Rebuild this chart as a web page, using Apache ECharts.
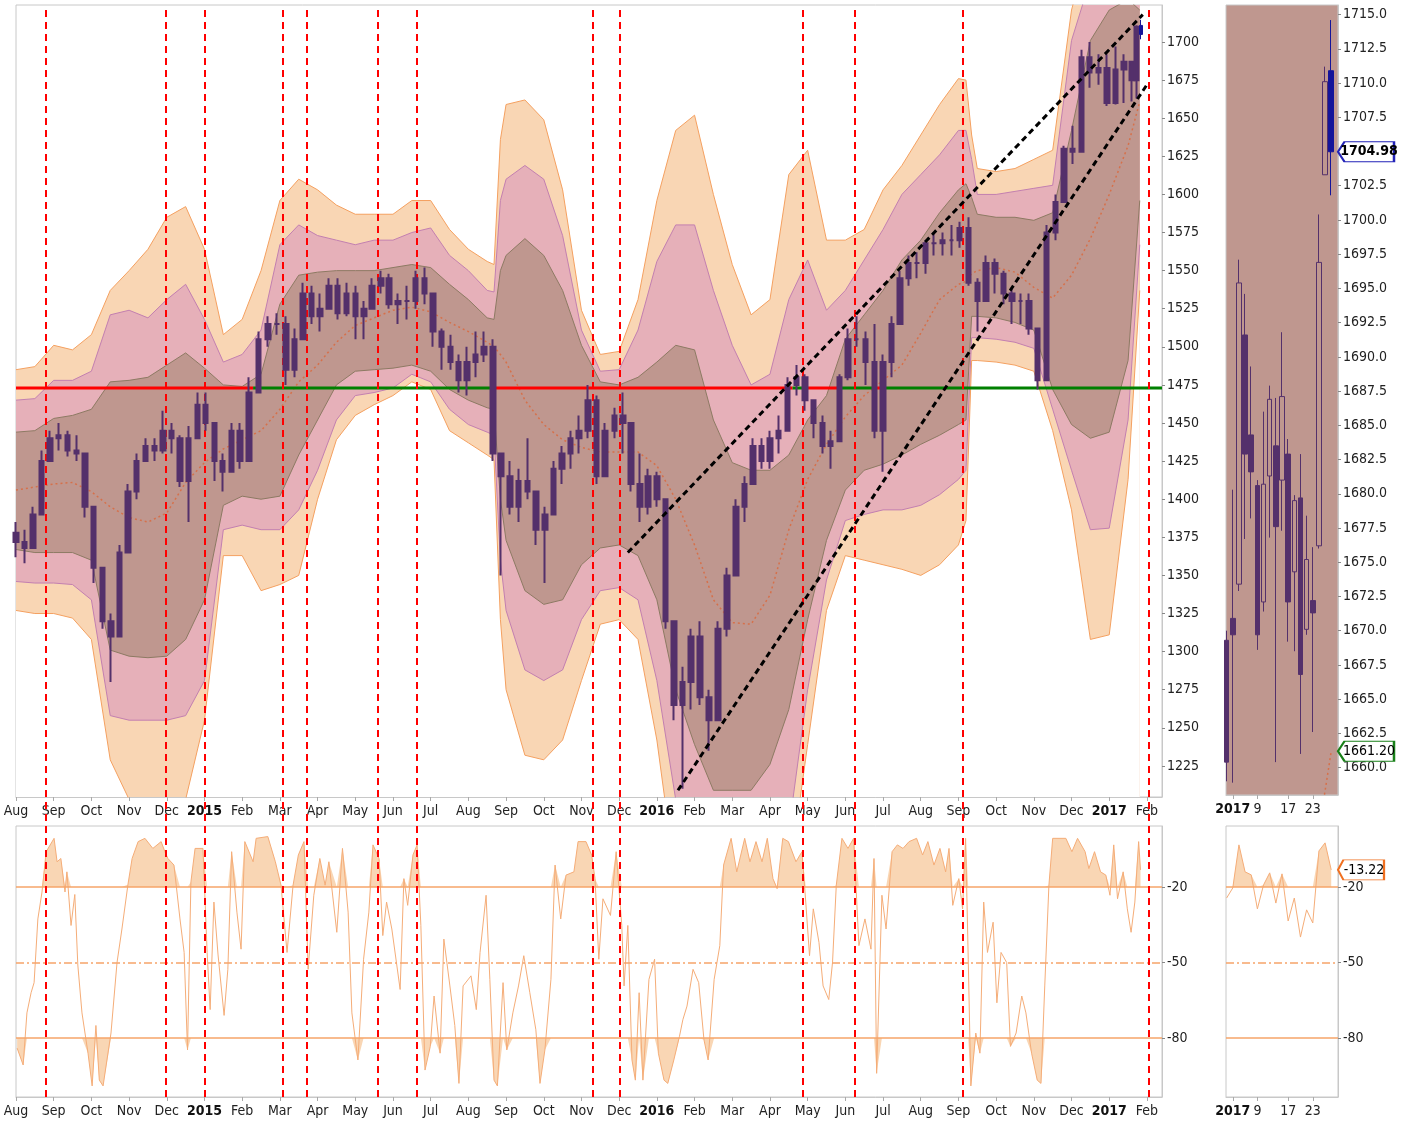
<!DOCTYPE html>
<html>
<head>
<meta charset="utf-8">
<script src="https://cdn.jsdelivr.net/npm/echarts@6/dist/echarts.min.js"></script>
<style>
html,body{margin:0;padding:0;background:#fff;}
#chart{width:1404px;height:1127px;}
</style>
</head>
<body>
<div id="chart"></div>
<script>
// x positions are months since 1 Aug 2014
const monthLabels = ['Aug','Sep','Oct','Nov','Dec','2015','Feb','Mar','Apr','May','Jun','Jul','Aug','Sep','Oct','Nov','Dec','2016','Feb','Mar','Apr','May','Jun','Jul','Aug','Sep','Oct','Nov','Dec','2017','Feb']
const priceTicks = [1225,1250,1275,1300,1325,1350,1375,1400,1425,1450,1475,1500,1525,1550,1575,1600,1625,1650,1675,1700]
const zoomTicks = [1660,1662.5,1665,1667.5,1670,1672.5,1675,1677.5,1680,1682.5,1685,1687.5,1690,1692.5,1695,1697.5,1700,1702.5,1705,1707.5,1710,1712.5,1715]
const wrTicks = [-20,-50,-80]

// weekly bars
const weekPos = [0.00,0.23,0.45,0.68,0.90,1.13,1.37,1.60,1.83,2.06,
    2.29,2.52,2.74,2.97,3.20,3.43,3.67,3.90,4.13,4.35,
    4.58,4.81,5.03,5.26,5.48,5.71,5.94,6.18,6.43,6.68,
    6.93,7.16,7.39,7.61,7.84,8.07,8.30,8.53,8.77,9.00,
    9.23,9.45,9.68,9.90,10.13,10.37,10.60,10.83,11.06,11.29,
    11.52,11.74,11.97,12.19,12.42,12.65,12.87,13.10,13.33,13.57,
    13.80,14.03,14.26,14.48,14.71,14.94,15.17,15.40,15.63,15.87,
    16.10,16.32,16.55,16.77,17.00,17.23,17.45,17.68,17.90,18.14,
    18.38,18.62,18.86,19.10,19.32,19.55,19.77,20.00,20.23,20.47,
    20.70,20.93,21.16,21.39,21.61,21.84,22.07,22.30,22.53,22.77,
    23.00,23.23,23.45,23.68,23.90,24.13,24.35,24.58,24.81,25.03,
    25.27,25.50,25.73,25.97,26.19,26.42,26.65,26.87,27.10,27.33,
    27.57,27.80,28.03,28.26,28.48,28.71,28.94,29.16,29.39,29.61,
    29.72]
const weekClose = [1372,1368,1390,1425,1440,1442,1432,1430,1395,1355,
    1320,1310,1365,1405,1425,1435,1432,1445,1440,1412,
    1440,1462,1450,1425,1418,1445,1425,1470,1505,1515,
    1515,1485,1505,1535,1520,1525,1540,1522,1535,1520,
    1525,1540,1545,1528,1530,1530,1545,1535,1510,1500,
    1490,1478,1490,1495,1500,1430,1415,1395,1412,1405,
    1380,1390,1420,1430,1440,1445,1465,1415,1445,1455,
    1450,1410,1395,1415,1400,1320,1265,1280,1310,1270,
    1255,1315,1350,1395,1410,1435,1425,1440,1445,1475,
    1480,1465,1450,1435,1438,1480,1505,1505,1490,1445,
    1490,1515,1545,1555,1555,1568,1568,1570,1570,1578,
    1542,1530,1555,1548,1535,1530,1530,1512,1478,1575,
    1595,1630,1628,1690,1680,1683,1660,1682,1687,1675,
    1710]
const weekHigh = [1385,1380,1395,1432,1445,1450,1445,1442,1425,1395,
    1355,1325,1370,1410,1430,1440,1440,1458,1450,1442,
    1448,1470,1470,1450,1430,1450,1450,1480,1510,1520,
    1522,1520,1512,1542,1540,1535,1545,1545,1542,1540,
    1530,1545,1550,1548,1535,1540,1550,1552,1535,1512,
    1508,1495,1500,1510,1510,1505,1430,1425,1420,1440,
    1405,1395,1425,1435,1445,1455,1475,1468,1450,1460,
    1470,1450,1430,1420,1418,1395,1320,1290,1315,1320,
    1275,1320,1355,1400,1415,1440,1440,1445,1455,1480,
    1488,1482,1465,1455,1445,1482,1512,1520,1510,1515,
    1495,1520,1550,1560,1562,1570,1575,1575,1580,1582,
    1585,1545,1560,1558,1550,1538,1535,1535,1510,1580,
    1600,1632,1645,1695,1700,1692,1692,1697,1692,1684,
    1711]
const weekLow = [1362,1358,1370,1395,1425,1432,1428,1425,1388,1345,
    1315,1280,1320,1365,1400,1425,1425,1430,1430,1408,
    1385,1440,1445,1412,1405,1418,1420,1425,1470,1500,
    1508,1475,1480,1505,1515,1510,1525,1518,1520,1505,
    1505,1525,1535,1525,1515,1518,1525,1528,1500,1485,
    1485,1470,1468,1480,1490,1425,1350,1390,1385,1400,
    1370,1345,1395,1410,1420,1430,1440,1410,1415,1440,
    1430,1405,1385,1390,1395,1315,1255,1210,1262,1265,
    1235,1270,1310,1350,1385,1410,1420,1420,1430,1445,
    1468,1458,1440,1430,1420,1440,1478,1500,1475,1440,
    1418,1480,1515,1540,1545,1548,1560,1560,1560,1565,
    1540,1510,1530,1535,1528,1515,1515,1508,1472,1480,
    1570,1600,1620,1635,1670,1672,1658,1659,1660,1661,
    1663]
const lastDayPos = 29.84

// channel edges, read at half-month steps
const bandPos = [0,0.5,1,1.5,2,2.5,3,3.5,4,4.5,5,5.5,6,6.5,7,7.5,8,8.5,9,9.5,10,10.5,11,11.5,12,12.5,12.68,12.85,13,13.5,14,14.5,15,15.5,16,16.5,17,17.5,18,18.5,19,19.5,20,20.5,21,21.5,22,22.5,23,23.5,24,24.5,25,25.2,25.35,25.5,26,26.5,27,27.5,28,28.5,29,29.5,29.81]
const orangeTop = [1485,1487,1501,1498,1508,1537,1550,1564,1585,1592,1564,1508,1518,1550,1596,1610,1603,1593,1587,1587,1587,1596,1596,1577,1564,1556,1554,1636,1659,1662,1649,1603,1524,1495,1497,1531,1596,1642,1652,1600,1554,1521,1531,1613,1629,1570,1570,1577,1603,1619,1639,1659,1676,1675,1639,1617,1615,1617,1623,1629,1721,1767,1767,1754,1747]
const pinkTop = [1465,1466,1478,1478,1484,1521,1524,1519,1531,1541,1518,1490,1495,1511,1567,1580,1573,1570,1567,1570,1570,1575,1578,1560,1550,1537,1536,1596,1610,1619,1610,1573,1511,1484,1485,1511,1556,1580,1580,1537,1501,1475,1482,1531,1557,1524,1537,1557,1577,1600,1613,1626,1642,1642,1623,1600,1600,1602,1604,1606,1701,1741,1741,1734,1728]
const brownTop = [1444,1445,1453,1455,1459,1477,1478,1480,1488,1496,1486,1475,1474,1482,1528,1547,1549,1550,1550,1550,1552,1554,1552,1541,1531,1519,1518,1550,1560,1571,1560,1537,1501,1477,1475,1480,1490,1501,1498,1452,1424,1419,1419,1429,1452,1468,1505,1521,1537,1557,1570,1588,1603,1607,1598,1587,1585,1585,1583,1588,1642,1701,1721,1728,1721]
const brownBot = [1367,1365,1365,1365,1360,1301,1297,1296,1297,1308,1334,1396,1402,1400,1402,1429,1452,1475,1484,1485,1486,1488,1484,1472,1465,1460,1459,1400,1373,1340,1331,1334,1357,1368,1370,1363,1334,1275,1239,1209,1209,1209,1226,1262,1321,1373,1406,1419,1423,1429,1436,1442,1449,1452,1520,1520,1519,1516,1511,1472,1449,1440,1444,1491,1596]
const pinkBot = [1346,1345,1345,1344,1334,1258,1255,1255,1255,1258,1281,1380,1383,1380,1380,1393,1419,1452,1468,1470,1473,1482,1477,1459,1449,1444,1442,1360,1327,1288,1281,1288,1321,1340,1342,1334,1281,1203,1170,1170,1170,1170,1170,1183,1275,1347,1386,1390,1393,1393,1396,1403,1413,1419,1506,1506,1505,1503,1499,1459,1419,1380,1381,1452,1567]
const orangeBot = [1327,1325,1325,1322,1308,1229,1203,1203,1203,1203,1255,1363,1363,1340,1344,1350,1400,1439,1455,1462,1468,1477,1472,1445,1437,1429,1426,1321,1275,1232,1229,1242,1281,1318,1321,1308,1242,1150,1150,1150,1150,1150,1150,1150,1239,1327,1363,1360,1357,1354,1350,1357,1370,1386,1491,1491,1490,1488,1484,1445,1393,1308,1311,1413,1537]
const maLine = [1406,1408,1410,1411,1405,1395,1388,1385,1391,1411,1424,1433,1439,1445,1459,1477,1488,1503,1514,1519,1524,1526,1523,1516,1510,1503,1500,1495,1490,1465,1449,1439,1434,1431,1431,1431,1422,1400,1370,1334,1319,1318,1337,1380,1413,1436,1454,1468,1478,1488,1509,1531,1541,1543,1548,1550,1552,1549,1539,1532,1547,1571,1600,1632,1661]

const level = 1473
const levelBreaks = [0, 6.29, 12.63, 20.6, 21.0, 21.78, 22.8, 22.97, 30.4]
const levelAbove = [false, true, false, true, false, true, false, true]

const trendUpper = [[16.23, 1365], [29.89, 1718]]
const trendLower = [[17.56, 1209], [30.0, 1672]]

const markerPos = [0.80, 3.96, 5.01, 7.07, 7.70, 9.59, 10.64, 15.30, 16.01, 20.87, 22.24, 25.11, 30.06]

// Williams %R
const wrPos = [0.03,0.19,0.29,0.40,0.48,0.58,0.69,0.80,1.01,1.09,1.19,1.30,1.35,1.46,1.56,1.64,1.75,1.91,2.02,2.12,
    2.21,2.31,2.52,2.68,2.81,2.97,3.08,3.24,3.42,3.63,3.85,3.95,4.03,4.19,4.35,4.46,4.55,4.64,4.75,4.96,
    5.07,5.15,5.25,5.36,5.52,5.62,5.72,5.86,5.97,6.07,6.29,6.37,6.68,6.88,7.03,7.19,7.35,7.49,7.64,7.75,
    7.90,8.06,8.20,8.30,8.51,8.66,8.81,8.91,9.07,9.22,9.36,9.47,9.63,9.73,9.83,9.97,10.19,10.29,10.39,10.53,
    10.64,10.74,10.85,10.99,11.09,11.25,11.35,11.51,11.64,11.75,11.86,12.07,12.21,12.31,12.47,12.57,12.68,12.77,12.92,13.02,
    13.18,13.33,13.47,13.63,13.79,13.90,14.03,14.19,14.30,14.45,14.59,14.80,14.91,15.12,15.27,15.36,15.46,15.57,15.77,15.92,
    16.07,16.13,16.23,16.34,16.43,16.53,16.63,16.79,16.94,17.04,17.19,17.29,17.45,17.60,17.69,17.80,17.96,18.11,18.25,18.36,
    18.52,18.67,18.77,18.97,19.12,19.33,19.47,19.63,19.79,19.93,20.08,20.19,20.34,20.49,20.69,20.85,20.95,21.05,21.15,21.30,
    21.41,21.56,21.66,21.76,21.91,22.07,22.22,22.36,22.52,22.68,22.76,22.83,22.97,23.08,23.24,23.38,23.53,23.69,23.89,24.05,
    24.19,24.35,24.51,24.66,24.75,24.85,25.01,25.11,25.19,25.26,25.33,25.46,25.57,25.67,25.77,25.92,26.02,26.13,26.28,26.38,
    26.53,26.68,26.79,26.94,27.09,27.19,27.29,27.40,27.50,27.85,28.01,28.16,28.36,28.46,28.61,28.77,28.91,29.02,29.12,29.22,
    29.37,29.48,29.58,29.68,29.78,29.83]
const wrValue = [-84,-90.7,-70,-62,-58,-32.7,-22,-6,-0.7,-10,-8.7,-22,-14,-35.3,-23,-51,-70,-86,-99,-75,
    -96.7,-99,-78,-50,-36.7,-19,-8.7,-2,-0.7,-4.7,-2,-6,-8.7,-11.3,-32.7,-46,-84.7,-18,-4.7,-4.7,
    -46,-68.7,-26,-47,-71,-52.7,-6,-30,-44.7,-2,-10,-0.7,0,-10,-19.3,-46,-19.3,-7.3,-2,-52.7,
    -23.3,-8.7,-19.3,-10,-38,-4.7,-30,-70,-88.7,-48.7,-30,-3.3,-8.7,-39.3,-26,-36.7,-60.7,-16.7,-27.3,-7.3,
    -3.3,-35.3,-92.7,-83.3,-63.3,-86,-40.7,-59.3,-75,-98,-59.3,-55.3,-68.7,-46,-23.3,-56.7,-96.7,-99,-58,-84.7,
    -70,-59.3,-47.3,-62,-76.7,-98,-84.7,-56.7,-11.3,-32.7,-15.3,-14,-2,-2,-7.3,-16.7,-48.7,-24.7,-31.3,-6,
    -35.3,-59.3,-35.3,-88.7,-96.7,-62,-96.7,-56.7,-48.7,-86,-96.7,-98,-88.7,-79.3,-72.7,-67.3,-52.7,-58,-80.7,-88.7,
    -56.7,-43.3,-11.3,-0.7,-14,-0.7,-10,-2,-10,-0.7,-16.7,-20.7,-0.7,-2,-10,-6,-26,-47.3,-28.7,-42,
    -59.3,-64.7,-50,-19.3,-0.7,-4.7,-0.7,-43.3,-32.7,-44.7,-8.7,-94,-23.3,-36.7,-6,-3.3,-4.7,-2,-0.7,-7.3,
    -2,-11.3,-4.7,-14,-4.7,-27.3,-16.7,-28.7,-0.7,-48.7,-99,-78,-86,-26,-46,-34,-66,-46,-50,-83.3,
    -78,-63.3,-70,-86,-96.7,-98,-59.3,-19.3,-0.7,-0.7,-6,-0.7,-6,-12.7,-6,-14,-15.3,-23.3,-3.3,-24.7,
    -14,-28.7,-38,-26,-2,-13.22]

// January 2017 daily detail, index 0 = 30 Dec 2016
const janTickPos = [1, 5, 10, 14]
const janTickText = ['2017', '9', '17', '23']
const janOpen = [1669.3,1670.9,1673.4,1691.6,1684.3,1680.6,1672.1,1681.3,1683.5,1681.0,1682.9,1674.3,1679.7,1670.1,1672.2,1676.2,1703.3,1710.9]
const janHigh = [1670.0,1680.3,1697.1,1694.6,1689.3,1681.0,1686.0,1687.9,1687.0,1691.8,1684.0,1679.9,1682.9,1678.4,1676.1,1700.4,1711.2,1714.6]
const janLow = [1659.0,1658.9,1672.9,1676.7,1678.2,1668.6,1671.4,1676.8,1660.4,1677.3,1669.2,1668.5,1661.0,1669.7,1662.6,1676.0,1703.3,1701.8]
const janClose = [1660.4,1669.7,1695.4,1682.9,1681.6,1669.7,1680.7,1686.9,1677.6,1687.1,1672.1,1679.5,1666.8,1675.2,1671.3,1696.9,1710.1,1704.98]
const janMa = [[15, 1655.5], [16, 1658.3], [17, 1661.2]]
const janWr = [-24.4,-20.4,-3.3,-14.0,-15.2,-28.7,-19.2,-14.4,-26.4,-14.8,-33.5,-24.4,-39.9,-29.1,-34.3,-5.7,-2.5,-13.22]

const FONT = "'DejaVu Sans Condensed', 'DejaVu Sans', sans-serif"
const PURPLE = '#54306b'
const BLUE = '#14149a'
const ORANGE_FILL = '#f9d6b4'
const PINK_FILL = '#e6b0b9'
const BROWN_FILL = '#bf978f'
const ORANGE_LINE = '#f4a060'
const PINK_LINE = '#c27fb0'
const BROWN_LINE = '#8d7a63'

const edges = [
    { data: orangeTop, fill: ORANGE_FILL, line: ORANGE_LINE },
    { data: pinkTop, fill: PINK_FILL, line: PINK_LINE },
    { data: brownTop, fill: BROWN_FILL, line: BROWN_LINE },
    { data: brownBot, fill: PINK_FILL, line: BROWN_LINE },
    { data: pinkBot, fill: ORANGE_FILL, line: PINK_LINE },
    { data: orangeBot, fill: '#ffffff', line: ORANGE_LINE }
]
const withPos = arr => bandPos.map((m, i) => [m, arr[i]])

const series = []
// each fill paints from its edge down to the axis floor, the next one covers the rest
edges.forEach(e => {
    series.push({
        type: 'line', xAxisIndex: 0, yAxisIndex: 0, data: withPos(e.data),
        symbol: 'none', silent: true, z: 1,
        lineStyle: { width: 0 },
        areaStyle: { color: e.fill, opacity: 1, origin: 'start' }
    })
})
edges.forEach(e => {
    series.push({
        type: 'line', xAxisIndex: 0, yAxisIndex: 0, data: withPos(e.data),
        symbol: 'none', silent: true, z: 2,
        lineStyle: { width: 1, color: e.line }
    })
})

series.push({
    type: 'line', xAxisIndex: 0, yAxisIndex: 0, data: withPos(maLine),
    symbol: 'none', silent: true, z: 3,
    lineStyle: { width: 1.5, color: '#d6704a', type: [2, 3] }
})

for (let i = 0; i < levelAbove.length; i++) {
    series.push({
        type: 'line', xAxisIndex: 0, yAxisIndex: 0,
        data: [[levelBreaks[i], level], [levelBreaks[i + 1], level]],
        symbol: 'none', silent: true, z: 4,
        lineStyle: { width: 3, color: levelAbove[i] ? '#008000' : '#ff0000' }
    })
}

const weekData = weekPos.map((m, i) => {
    const open = i === 0 ? 1378 : weekClose[i - 1]
    return [m, open, weekClose[i], weekLow[i], weekHigh[i]]
})
series.push({
    type: 'candlestick', xAxisIndex: 0, yAxisIndex: 0, data: weekData,
    encode: { x: 0, y: [1, 2, 3, 4] }, barWidth: 5, z: 5, silent: true,
    itemStyle: { color: PURPLE, color0: PURPLE, borderColor: PURPLE, borderColor0: PURPLE, borderWidth: 2 }
})
const last = janOpen.length - 1
series.push({
    type: 'candlestick', xAxisIndex: 0, yAxisIndex: 0,
    data: [[lastDayPos, janOpen[last], janClose[last], janLow[last], janHigh[last]]],
    encode: { x: 0, y: [1, 2, 3, 4] }, barWidth: 3, z: 5, silent: true,
    itemStyle: { color: BLUE, color0: BLUE, borderColor: BLUE, borderColor0: BLUE, borderWidth: 1 }
})

;[trendUpper, trendLower].forEach(t => {
    series.push({
        type: 'line', xAxisIndex: 0, yAxisIndex: 0, data: t,
        symbol: 'none', silent: true, z: 6,
        lineStyle: { width: 3, color: '#000', type: [6, 4] }
    })
})

// oscillator
const wrLine = wrPos.map((m, i) => [m, wrValue[i]])
const levelMarks = {
    silent: true, symbol: ['none', 'none'], label: { show: false },
    data: wrTicks.map(v => ({ yAxis: v, lineStyle: { color: '#f6a469', width: 1.5, type: v === -50 ? [8, 3, 2, 3] : 'solid' } }))
}
series.push({
    type: 'line', xAxisIndex: 1, yAxisIndex: 1,
    data: wrLine.map(([m, v]) => [m, Math.max(v, -20)]),
    symbol: 'none', silent: true, lineStyle: { width: 0 },
    areaStyle: { color: ORANGE_FILL, opacity: 1, origin: -20 }
})
series.push({
    type: 'line', xAxisIndex: 1, yAxisIndex: 1,
    data: wrLine.map(([m, v]) => [m, Math.min(v, -80)]),
    symbol: 'none', silent: true, lineStyle: { width: 0 },
    areaStyle: { color: ORANGE_FILL, opacity: 1, origin: -80 }
})
series.push({
    type: 'line', xAxisIndex: 1, yAxisIndex: 1, data: wrLine,
    symbol: 'none', silent: true, z: 3,
    lineStyle: { width: 1, color: '#f5ad78' },
    markLine: levelMarks
})

// January panels
const janData = janOpen.map((o, i) => {
    const item = { value: [i, o, janClose[i], janLow[i], janHigh[i]] }
    if (i === last) {
        item.itemStyle = { color: BLUE, color0: BLUE, borderColor: BLUE, borderColor0: BLUE }
    }
    return item
})
const tag = (coord, text, color, bold, width) => ({
    coord: coord,
    symbol: 'path://M0,10 L7,0 L60,0 L60,20 L7,20 Z',
    symbolSize: [width, 20],
    symbolOffset: [width / 2, 0],
    itemStyle: { color: '#fff', borderColor: color, borderWidth: 1.5 },
    label: {
        show: true, position: 'inside', offset: [3, 0], formatter: text,
        color: '#000', fontFamily: FONT, fontSize: 14, fontWeight: bold ? 'bold' : 'normal'
    }
})
series.push({
    type: 'candlestick', xAxisIndex: 2, yAxisIndex: 2, data: janData,
    encode: { x: 0, y: [1, 2, 3, 4] }, barWidth: 5, silent: true, z: 5,
    itemStyle: { color: 'transparent', color0: PURPLE, borderColor: PURPLE, borderColor0: PURPLE, borderWidth: 1 },
    markPoint: {
        silent: true,
        data: [
            tag([18.1, janClose[last]], janClose[last].toFixed(2), '#2323b8', true, 56),
            tag([18.1, janMa[janMa.length - 1][1]], janMa[janMa.length - 1][1].toFixed(2), '#188018', false, 56)
        ]
    }
})
series.push({
    type: 'line', xAxisIndex: 2, yAxisIndex: 2, data: janMa,
    symbol: 'none', silent: true, z: 3,
    lineStyle: { width: 1.5, color: '#d6704a', type: [2, 3] }
})
const janWrLine = janWr.map((v, i) => [i, v])
series.push({
    type: 'line', xAxisIndex: 3, yAxisIndex: 3,
    data: janWrLine.map(([i, v]) => [i, Math.max(v, -20)]),
    symbol: 'none', silent: true, lineStyle: { width: 0 },
    areaStyle: { color: ORANGE_FILL, opacity: 1, origin: -20 }
})
series.push({
    type: 'line', xAxisIndex: 3, yAxisIndex: 3, data: janWrLine,
    symbol: 'none', silent: true, z: 3,
    lineStyle: { width: 1, color: '#f5ad78' },
    markLine: levelMarks,
    markPoint: {
        silent: true,
        data: [tag([18.1, janWr[last]], janWr[last].toFixed(2), '#f07020', false, 46)]
    }
})

// vertical event markers across both panels
series.push({
    type: 'line', xAxisIndex: 4, yAxisIndex: 4,
    data: markerPos.map(m => [m, 0.5]),
    symbol: 'none', silent: true, z: 10,
    lineStyle: { opacity: 0 },
    markLine: {
        silent: true, symbol: ['none', 'none'], label: { show: false },
        lineStyle: { color: '#ff0000', width: 2, type: [7, 5] },
        data: markerPos.map(m => ({ xAxis: m }))
    }
})

const axisText = { color: '#222', fontFamily: FONT, fontSize: 14 }
const yearRich = { y: { fontFamily: FONT, fontSize: 14, fontWeight: 'bold', color: '#111' } }
const monthAxis = (gridIndex) => ({
    type: 'value', gridIndex: gridIndex, min: 0, max: 30.4, interval: 1,
    axisLine: { onZero: false, lineStyle: { color: '#c8c8c8' } },
    axisTick: { show: true, length: 4, lineStyle: { color: '#aaa' } },
    splitLine: { show: false },
    axisLabel: Object.assign({}, axisText, {
        margin: 7, showMaxLabel: false, showMinLabel: true,
        formatter: v => {
            const s = Number.isInteger(v) ? monthLabels[v] : ''
            if (!s) return ''
            return /^\d+$/.test(s) ? '{y|' + s + '}' : s
        },
        rich: yearRich
    })
})
const janAxis = (gridIndex) => ({
    type: 'value', gridIndex: gridIndex, min: -0.1, max: 18.1,
    axisLine: { onZero: false, lineStyle: { color: '#c8c8c8' } },
    axisTick: { show: true, length: 4, customValues: janTickPos, lineStyle: { color: '#aaa' } },
    splitLine: { show: false },
    axisLabel: Object.assign({}, axisText, {
        margin: 7, customValues: janTickPos, showMinLabel: true, showMaxLabel: true,
        formatter: v => {
            const s = janTickText[janTickPos.indexOf(v)] || ''
            return s.length === 4 ? '{y|' + s + '}' : s
        },
        rich: yearRich
    })
})
const valueAxis = (gridIndex, min, max, ticks, fmt) => ({
    type: 'value', gridIndex: gridIndex, position: 'right', min: min, max: max,
    axisLine: { show: true, onZero: false, lineStyle: { color: '#c8c8c8' } },
    axisTick: { show: true, length: 3, customValues: ticks, lineStyle: { color: '#888' } },
    splitLine: { show: false },
    axisLabel: Object.assign({}, axisText, { margin: 5, customValues: ticks, formatter: fmt })
})

const chart = echarts.init(document.getElementById('chart'))
chart.setOption({
    animation: false,
    backgroundColor: '#fff',
    grid: [
        { left: 16, top: 5, width: 1146, height: 792, show: true, borderColor: '#c8c8c8', backgroundColor: '#fff' },
        { left: 16, top: 826, width: 1146, height: 271, show: true, borderColor: '#c8c8c8', backgroundColor: '#fff' },
        { left: 1226, top: 5, width: 112, height: 790, show: true, borderColor: '#c8c8c8', backgroundColor: BROWN_FILL },
        { left: 1226, top: 826, width: 112, height: 271, show: true, borderColor: '#c8c8c8', backgroundColor: '#fff' },
        { left: 16, top: 5, width: 1146, height: 1092, show: false }
    ],
    xAxis: [
        monthAxis(0), monthAxis(1), janAxis(2), janAxis(3),
        { type: 'value', gridIndex: 4, min: 0, max: 30.4, show: false }
    ],
    yAxis: [
        valueAxis(0, 1204.6, 1724.3, priceTicks, v => String(v)),
        valueAxis(1, -103.4, 4.2, wrTicks, v => String(v)),
        valueAxis(2, 1658, 1715.7, zoomTicks, v => v.toFixed(1)),
        valueAxis(3, -103.4, 4.2, wrTicks, v => String(v)),
        { type: 'value', gridIndex: 4, min: 0, max: 1, show: false }
    ],
    series: series
})
</script>
</body>
</html>
